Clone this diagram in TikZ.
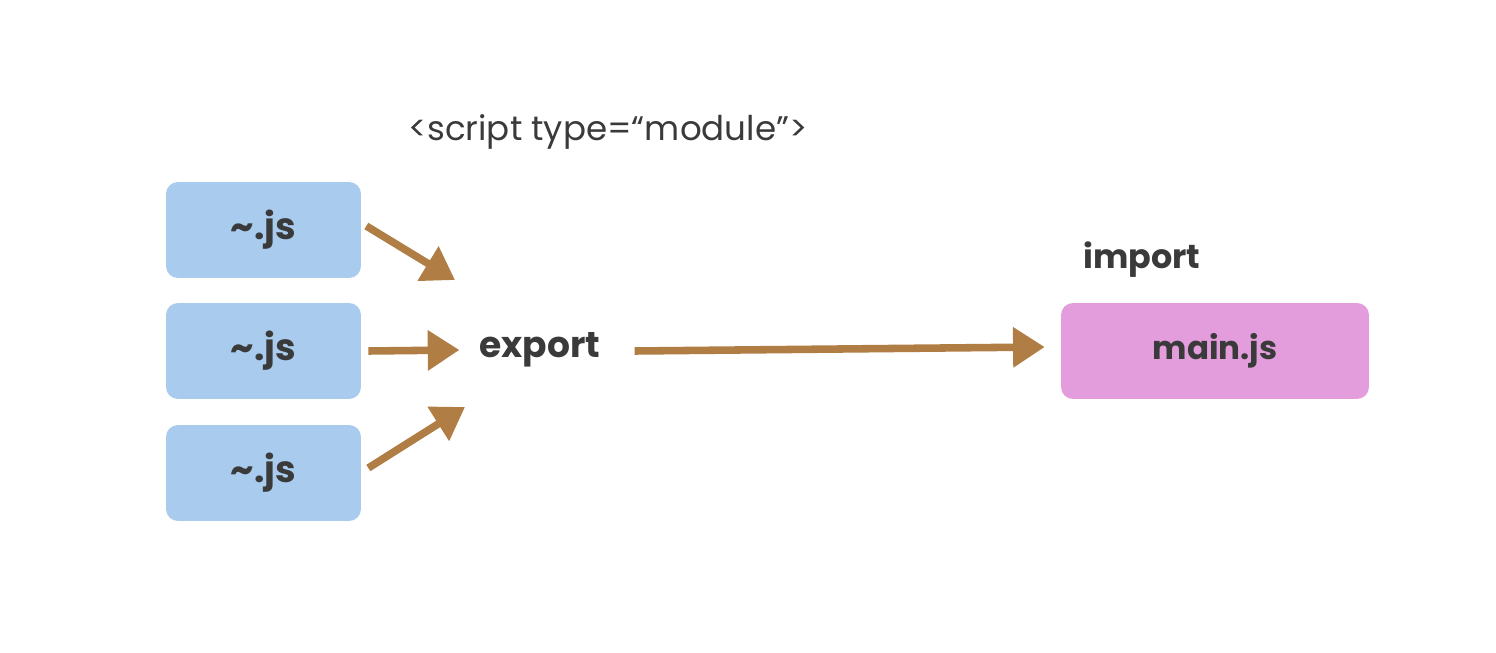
\documentclass[tikz,border=0pt]{standalone}
\usepackage{fontspec}
\setmainfont{Poppins}
\usetikzlibrary{arrows.meta,calc}
\definecolor{jsblue}{RGB}{168,203,238}
\definecolor{mainpink}{RGB}{228,157,220}
\definecolor{arrowbrown}{RGB}{176,125,69}
\definecolor{textgray}{RGB}{58,58,58}
\tikzset{
  jsbox/.style={fill=jsblue,rounded corners=0.24cm,minimum width=3.9cm,minimum height=1.92cm,
    text=textgray,font=\fontsize{21}{25}\selectfont\bfseries},
  mainbox/.style={jsbox,fill=mainpink,minimum width=6.16cm,font=\fontsize{18.5}{22}\selectfont\bfseries},
  label/.style={text=textgray,font=\fontsize{19}{23}\selectfont\bfseries},
  flow/.style={arrowbrown,line width=4.3pt,-{Triangle[length=18pt,width=22pt]}}
}
\begin{document}
\begin{tikzpicture}[x=0.02cm,y=-0.02cm]
            % Canvas
            \fill[white] (0,0) rectangle (1496,652);

            % Title
            \node[text=textgray,font=\fontsize{19.4}{23}\selectfont] (script) at (608,132) {<script type=“module”>};

            % Modules
            \node[jsbox] (js1) at (263.5,230) {\~{}.js};
            \node[jsbox] (js2) at (263.5,351) {\~{}.js};
            \node[jsbox] (js3) at (263.5,473) {\~{}.js};

            % Export / import
            \node[label,font=\fontsize{20.5}{24}\selectfont\bfseries] (export) at (540,350) {export};
            \node[label] (import) at (1142,260) {import};
            \node[mainbox] (main) at (1215,351) {main.js};

            % Ends of the short arrows
            \coordinate (in1) at (455,280);
            \coordinate (in3) at (465,407);

            % Arrows
            \draw[flow] (js1.east) ++(5,-4) -- (in1);
            \draw[flow] (js2.east) ++(7,0) -- ($(export.west)+(-14,0)$);
            \draw[flow] (js3.east) ++(7,-5) -- (in3);
            \draw[flow] ($(export.east)+(28,1)$) -- ($(main.west)+(-16,-4)$);
        \end{tikzpicture}
\end{document}
